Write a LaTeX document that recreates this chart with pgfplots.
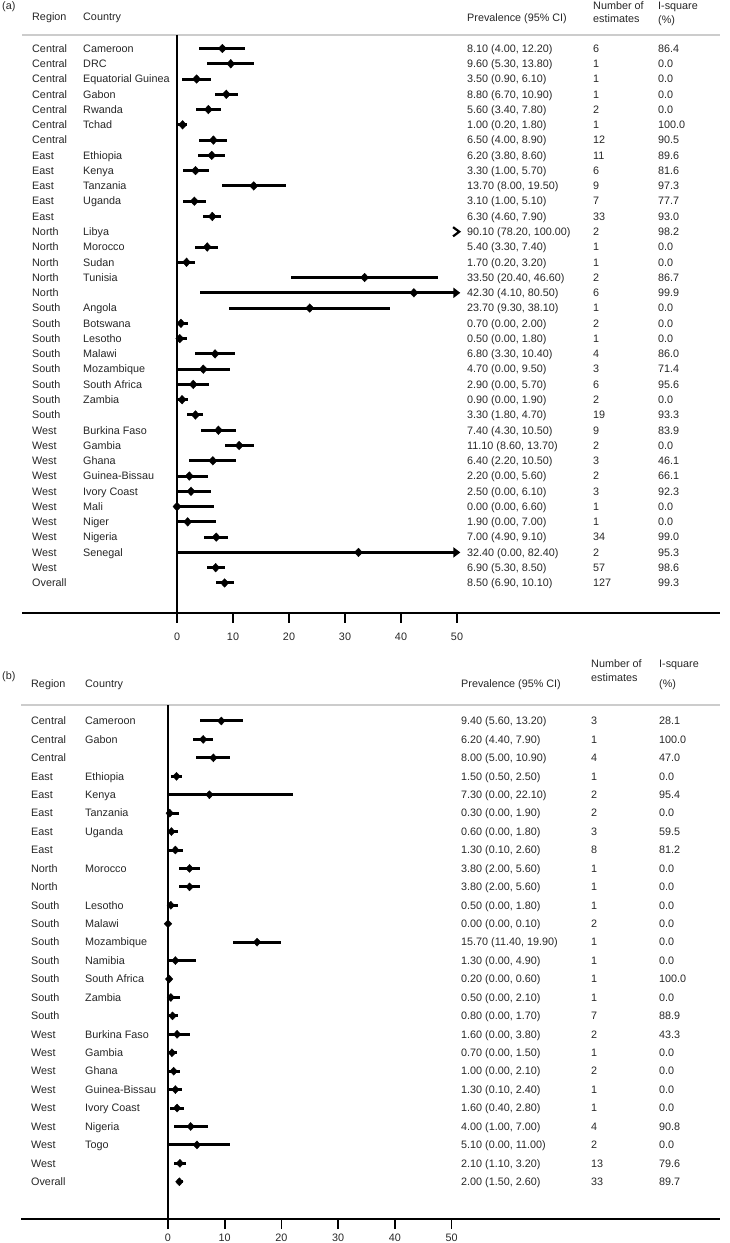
\documentclass[border=0pt]{standalone}
\usepackage{fontspec}
\setmainfont{Liberation Sans}
\usepackage{pgfplots}
\usepackage{pgfplotstable}
\pgfplotsset{compat=1.18}
\usetikzlibrary{arrows.meta}

% panel (a): row, estimate, lower, upper (CI drawn clipped at 50)
\pgfplotstableread{
r est lo hi
1 8.10 4.00 12.20
2 9.60 5.30 13.80
3 3.50 0.90 6.10
4 8.80 6.70 10.90
5 5.60 3.40 7.80
6 1.00 0.20 1.80
7 6.50 4.00 8.90
8 6.20 3.80 8.60
9 3.30 1.00 5.70
10 13.70 8.00 19.50
11 3.10 1.00 5.10
12 6.30 4.60 7.90
14 5.40 3.30 7.40
15 1.70 0.20 3.20
16 33.50 20.40 46.60
17 42.30 4.10 50.00
18 23.70 9.30 38.10
19 0.70 0.00 2.00
20 0.50 0.00 1.80
21 6.80 3.30 10.40
22 4.70 0.00 9.50
23 2.90 0.00 5.70
24 0.90 0.00 1.90
25 3.30 1.80 4.70
26 7.40 4.30 10.50
27 11.10 8.60 13.70
28 6.40 2.20 10.50
29 2.20 0.00 5.60
30 2.50 0.00 6.10
31 0.00 0.00 6.60
32 1.90 0.00 7.00
33 7.00 4.90 9.10
34 32.40 0.00 50.00
35 6.90 5.30 8.50
36 8.50 6.90 10.10
}\dataA

% panel (b)
\pgfplotstableread{
r est lo hi
1 9.40 5.60 13.20
2 6.20 4.40 7.90
3 8.00 5.00 10.90
4 1.50 0.50 2.50
5 7.30 0.00 22.10
6 0.30 0.00 1.90
7 0.60 0.00 1.80
8 1.30 0.10 2.60
9 3.80 2.00 5.60
10 3.80 2.00 5.60
11 0.50 0.00 1.80
12 0.00 0.00 0.10
13 15.70 11.40 19.90
14 1.30 0.00 4.90
15 0.20 0.00 0.60
16 0.50 0.00 2.10
17 0.80 0.00 1.70
18 1.60 0.00 3.80
19 0.70 0.00 1.50
20 1.00 0.00 2.10
21 1.30 0.10 2.40
22 1.60 0.40 2.80
23 4.00 1.00 7.00
24 5.10 0.00 11.00
25 2.10 1.10 3.20
26 2.00 1.50 2.60
}\dataB

\tikzset{T/.style={anchor=base west, inner sep=0pt, yshift=-3.8pt, text=black!85,
  font=\fontsize{10.8}{12}\selectfont}}
% row text: #1 row, #2 region, #3 country, #4 prevalence, #5 n, #6 I2
\newcommand{\rowtxt}[6]{%
  \node[T, xshift=\cR] at (axis cs:0,-#1) {#2};
  \node[T, xshift=\cC] at (axis cs:0,-#1) {#3};
  \node[T, xshift=\cP] at (axis cs:0,-#1) {#4};
  \node[T, xshift=\cN] at (axis cs:0,-#1) {#5};
  \node[T, xshift=\cI] at (axis cs:0,-#1) {#6};}
\newcommand{\hd}[3]{\node[T] at (#1pt,{1243pt-#2pt}) {#3};}

\begin{document}
\begin{tikzpicture}
\useasboundingbox (0,0) rectangle (729pt,1243pt);

% ---------------- panel (a) ----------------
\def\cR{-145pt}\def\cC{-94pt}\def\cP{290pt}\def\cN{416pt}\def\cI{481pt}
\begin{axis}[at={(22pt,1208pt)}, anchor=north west, scale only axis,
  width=698pt, height=578pt,
  xmin=-27.679, xmax=96.964, ymin=-37.968, ymax=-0.116,
  clip=false, axis y line=none, axis x line*=bottom,
  x axis line style={-, line width=1.6pt, black},
  xtick={0,10,20,30,40,50}, xticklabels={0,10,20,30,40,50},
  tick align=outside, major tick length=10pt,
  every tick/.style={black, line width=1.6pt},
  xticklabel style={font=\fontsize{10.8}{12}\selectfont, text=black!85, yshift=-6pt}]
  \draw[line width=2pt, black!20] (axis cs:-27.679,-0.116) -- (axis cs:96.964,-0.116);
  \addplot[black, line width=1.6pt] coordinates {(0,-0.116) (0,-37.968)};
  \addplot[black, only marks, mark=diamond*, mark size=4.3pt, mark options={xscale=1.25},
    error bars/.cd, x dir=both, x explicit, error mark=none,
    error bar style={line width=3pt, black}]
    table[x=est, y expr=-\thisrow{r},
      x error plus expr=\thisrow{hi}-\thisrow{est},
      x error minus expr=\thisrow{est}-\thisrow{lo}] {\dataA};
  % truncated intervals
  \addplot[black, line width=3pt, -{Triangle[length=7pt,width=10pt]}] coordinates {(46,-17) (50.6,-17)};
  \addplot[black, line width=3pt, -{Triangle[length=7pt,width=10pt]}] coordinates {(46,-34) (50.6,-34)};
  \addplot[black, line width=2.2pt] coordinates {(49.3,-12.7) (50.4,-13) (49.3,-13.3)};
  \rowtxt{1}{Central}{Cameroon}{8.10 (4.00, 12.20)}{6}{86.4}
  \rowtxt{2}{Central}{DRC}{9.60 (5.30, 13.80)}{1}{0.0}
  \rowtxt{3}{Central}{Equatorial Guinea}{3.50 (0.90, 6.10)}{1}{0.0}
  \rowtxt{4}{Central}{Gabon}{8.80 (6.70, 10.90)}{1}{0.0}
  \rowtxt{5}{Central}{Rwanda}{5.60 (3.40, 7.80)}{2}{0.0}
  \rowtxt{6}{Central}{Tchad}{1.00 (0.20, 1.80)}{1}{100.0}
  \rowtxt{7}{Central}{}{6.50 (4.00, 8.90)}{12}{90.5}
  \rowtxt{8}{East}{Ethiopia}{6.20 (3.80, 8.60)}{11}{89.6}
  \rowtxt{9}{East}{Kenya}{3.30 (1.00, 5.70)}{6}{81.6}
  \rowtxt{10}{East}{Tanzania}{13.70 (8.00, 19.50)}{9}{97.3}
  \rowtxt{11}{East}{Uganda}{3.10 (1.00, 5.10)}{7}{77.7}
  \rowtxt{12}{East}{}{6.30 (4.60, 7.90)}{33}{93.0}
  \rowtxt{13}{North}{Libya}{90.10 (78.20, 100.00)}{2}{98.2}
  \rowtxt{14}{North}{Morocco}{5.40 (3.30, 7.40)}{1}{0.0}
  \rowtxt{15}{North}{Sudan}{1.70 (0.20, 3.20)}{1}{0.0}
  \rowtxt{16}{North}{Tunisia}{33.50 (20.40, 46.60)}{2}{86.7}
  \rowtxt{17}{North}{}{42.30 (4.10, 80.50)}{6}{99.9}
  \rowtxt{18}{South}{Angola}{23.70 (9.30, 38.10)}{1}{0.0}
  \rowtxt{19}{South}{Botswana}{0.70 (0.00, 2.00)}{2}{0.0}
  \rowtxt{20}{South}{Lesotho}{0.50 (0.00, 1.80)}{1}{0.0}
  \rowtxt{21}{South}{Malawi}{6.80 (3.30, 10.40)}{4}{86.0}
  \rowtxt{22}{South}{Mozambique}{4.70 (0.00, 9.50)}{3}{71.4}
  \rowtxt{23}{South}{South Africa}{2.90 (0.00, 5.70)}{6}{95.6}
  \rowtxt{24}{South}{Zambia}{0.90 (0.00, 1.90)}{2}{0.0}
  \rowtxt{25}{South}{}{3.30 (1.80, 4.70)}{19}{93.3}
  \rowtxt{26}{West}{Burkina Faso}{7.40 (4.30, 10.50)}{9}{83.9}
  \rowtxt{27}{West}{Gambia}{11.10 (8.60, 13.70)}{2}{0.0}
  \rowtxt{28}{West}{Ghana}{6.40 (2.20, 10.50)}{3}{46.1}
  \rowtxt{29}{West}{Guinea-Bissau}{2.20 (0.00, 5.60)}{2}{66.1}
  \rowtxt{30}{West}{Ivory Coast}{2.50 (0.00, 6.10)}{3}{92.3}
  \rowtxt{31}{West}{Mali}{0.00 (0.00, 6.60)}{1}{0.0}
  \rowtxt{32}{West}{Niger}{1.90 (0.00, 7.00)}{1}{0.0}
  \rowtxt{33}{West}{Nigeria}{7.00 (4.90, 9.10)}{34}{99.0}
  \rowtxt{34}{West}{Senegal}{32.40 (0.00, 82.40)}{2}{95.3}
  \rowtxt{35}{West}{}{6.90 (5.30, 8.50)}{57}{98.6}
  \rowtxt{36}{Overall}{}{8.50 (6.90, 10.10)}{127}{99.3}
\end{axis}

% ---------------- panel (b) ----------------
\def\cR{-137pt}\def\cC{-83pt}\def\cP{293pt}\def\cN{423pt}\def\cI{491pt}
\begin{axis}[at={(21pt,537.5pt)}, anchor=north west, scale only axis,
  width=699pt, height=513.5pt,
  xmin=-25.907, xmax=97.286, ymin=-28.02, ymax=-0.159,
  clip=false, axis y line=none, axis x line*=bottom,
  x axis line style={-, line width=1.6pt, black},
  xtick={0,10,20,30,40,50}, xticklabels={0,10,20,30,40,50},
  tick align=outside, major tick length=10pt,
  every tick/.style={black, line width=1.6pt},
  xticklabel style={font=\fontsize{10.8}{12}\selectfont, text=black!85, yshift=-1pt}]
  \draw[line width=2pt, black!20] (axis cs:-25.907,-0.159) -- (axis cs:97.286,-0.159);
  \addplot[black, line width=1.6pt] coordinates {(0,-0.159) (0,-28.02)};
  \addplot[black, only marks, mark=diamond*, mark size=4pt, mark options={xscale=1.25},
    error bars/.cd, x dir=both, x explicit, error mark=none,
    error bar style={line width=3pt, black}]
    table[x=est, y expr=-\thisrow{r},
      x error plus expr=\thisrow{hi}-\thisrow{est},
      x error minus expr=\thisrow{est}-\thisrow{lo}] {\dataB};
  \rowtxt{1}{Central}{Cameroon}{9.40 (5.60, 13.20)}{3}{28.1}
  \rowtxt{2}{Central}{Gabon}{6.20 (4.40, 7.90)}{1}{100.0}
  \rowtxt{3}{Central}{}{8.00 (5.00, 10.90)}{4}{47.0}
  \rowtxt{4}{East}{Ethiopia}{1.50 (0.50, 2.50)}{1}{0.0}
  \rowtxt{5}{East}{Kenya}{7.30 (0.00, 22.10)}{2}{95.4}
  \rowtxt{6}{East}{Tanzania}{0.30 (0.00, 1.90)}{2}{0.0}
  \rowtxt{7}{East}{Uganda}{0.60 (0.00, 1.80)}{3}{59.5}
  \rowtxt{8}{East}{}{1.30 (0.10, 2.60)}{8}{81.2}
  \rowtxt{9}{North}{Morocco}{3.80 (2.00, 5.60)}{1}{0.0}
  \rowtxt{10}{North}{}{3.80 (2.00, 5.60)}{1}{0.0}
  \rowtxt{11}{South}{Lesotho}{0.50 (0.00, 1.80)}{1}{0.0}
  \rowtxt{12}{South}{Malawi}{0.00 (0.00, 0.10)}{2}{0.0}
  \rowtxt{13}{South}{Mozambique}{15.70 (11.40, 19.90)}{1}{0.0}
  \rowtxt{14}{South}{Namibia}{1.30 (0.00, 4.90)}{1}{0.0}
  \rowtxt{15}{South}{South Africa}{0.20 (0.00, 0.60)}{1}{100.0}
  \rowtxt{16}{South}{Zambia}{0.50 (0.00, 2.10)}{1}{0.0}
  \rowtxt{17}{South}{}{0.80 (0.00, 1.70)}{7}{88.9}
  \rowtxt{18}{West}{Burkina Faso}{1.60 (0.00, 3.80)}{2}{43.3}
  \rowtxt{19}{West}{Gambia}{0.70 (0.00, 1.50)}{1}{0.0}
  \rowtxt{20}{West}{Ghana}{1.00 (0.00, 2.10)}{2}{0.0}
  \rowtxt{21}{West}{Guinea-Bissau}{1.30 (0.10, 2.40)}{1}{0.0}
  \rowtxt{22}{West}{Ivory Coast}{1.60 (0.40, 2.80)}{1}{0.0}
  \rowtxt{23}{West}{Nigeria}{4.00 (1.00, 7.00)}{4}{90.8}
  \rowtxt{24}{West}{Togo}{5.10 (0.00, 11.00)}{2}{0.0}
  \rowtxt{25}{West}{}{2.10 (1.10, 3.20)}{13}{79.6}
  \rowtxt{26}{Overall}{}{2.00 (1.50, 2.60)}{33}{89.7}
\end{axis}

% ---------------- headers ----------------
\hd{2}{6}{(a)}
\hd{32}{17}{Region}
\hd{83}{17}{Country}
\hd{467}{18}{Prevalence (95\% CI)}
\hd{593}{5.5}{Number of}
\hd{593}{18.5}{estimates}
\hd{658}{5.5}{I-square}
\hd{658}{19.5}{(\%)}
\hd{2}{676}{(b)}
\hd{31}{684}{Region}
\hd{85}{684}{Country}
\hd{461}{684}{Prevalence (95\% CI)}
\hd{591}{664}{Number of}
\hd{591}{678}{estimates}
\hd{659}{664}{I-square}
\hd{659}{684}{(\%)}
\end{tikzpicture}
\end{document}
